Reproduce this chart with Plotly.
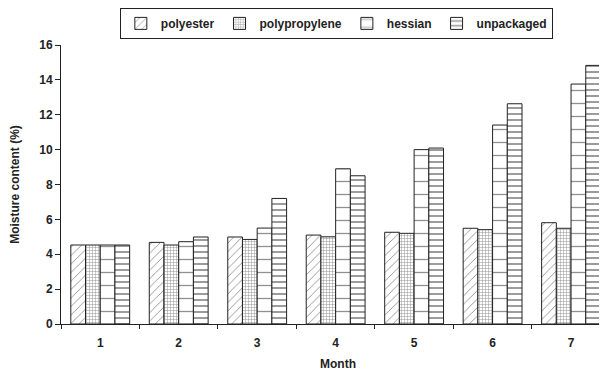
import plotly.graph_objects as go

months = ["1", "2", "3", "4", "5", "6", "7"]
polyester = [4.53, 4.68, 4.99, 5.1, 5.26, 5.49, 5.81]
polypropylene = [4.53, 4.53, 4.85, 5.0, 5.2, 5.41, 5.49]
hessian = [4.53, 4.72, 5.5, 8.9, 10.0, 11.41, 13.76]
unpackaged = [4.53, 4.99, 7.2, 8.5, 10.09, 12.63, 14.83]

series = [
    ("polyester", polyester, dict(shape="/", size=6, solidity=0.15)),
    ("polypropylene", polypropylene, dict(shape="+", size=3, solidity=0.3)),
    ("hessian", hessian, dict(shape="-", size=13, solidity=0.1)),
    ("unpackaged", unpackaged, dict(shape="-", size=6, solidity=0.3)),
]

fam = "Liberation Sans, Arial, sans-serif"
ink = "#222"

fig = go.Figure()
for name, vals, pat in series:
    fig.add_trace(go.Bar(
        x=months, y=vals, name="<b>" + name + "</b>",
        marker=dict(color="white", line=dict(color=ink, width=1),
                    pattern=dict(fgcolor=ink, bgcolor="white", fillmode="overlay", **pat)),
    ))

fig.update_layout(
    width=607, height=374,
    margin=dict(l=53, r=0, t=37, b=58, autoexpand=False),
    plot_bgcolor="white", paper_bgcolor="white",
    barmode="group", bargap=0.25, bargroupgap=0,
    font=dict(family=fam, size=12, color=ink),
    showlegend=True,
    legend=dict(orientation="h", x=0.497, xanchor="center", y=1.133, yanchor="top",
                bordercolor=ink, borderwidth=1, font=dict(family=fam, size=12, color=ink),
                itemwidth=30, tracegroupgap=0),
    xaxis=dict(
        type="category", range=[-0.5, 6.56], showline=True, linecolor=ink, linewidth=1,
        ticks="outside", tickson="boundaries", ticklen=4, tickcolor=ink,
        showgrid=False, automargin=False, tickfont=dict(family=fam, size=12, color=ink),
        tickprefix="<b>", ticksuffix="</b>", ticklabelstandoff=8,
        title=dict(text="<b>Month</b>", standoff=10, font=dict(family=fam, size=12, color=ink)),
    ),
    yaxis=dict(
        range=[0, 16], dtick=2, showline=True, linecolor=ink, linewidth=1,
        ticks="outside", ticklen=5, tickcolor=ink, showgrid=False, zeroline=False,
        automargin=False, tickfont=dict(family=fam, size=12, color=ink),
        tickprefix="<b>", ticksuffix="</b>",
        title=dict(text="<b>Moisture content (%)</b>", standoff=18, font=dict(family=fam, size=12, color=ink)),
    ),
)
fig.write_html("out.html")
